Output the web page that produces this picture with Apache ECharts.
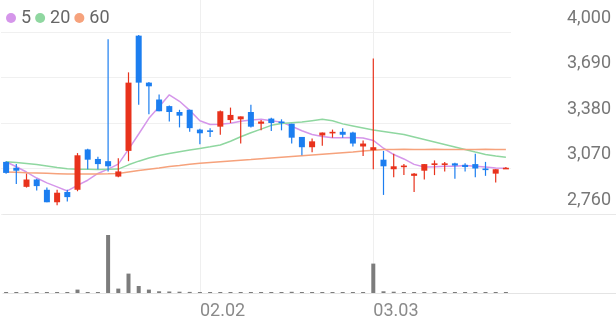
<!DOCTYPE html>
<html>
<head>
<meta charset="utf-8">
<script src="https://cdn.jsdelivr.net/npm/echarts@6/dist/echarts.min.js"></script>
<style>
html,body{margin:0;padding:0;background:#fff;}
#chart{width:616px;height:321px;}
</style>
</head>
<body>
<div id="chart"></div>
<script>
const dates = ['01.06','01.07','01.08','01.09','01.12','01.13','01.14','01.15','01.16','01.19',
  '01.20','01.21','01.22','01.23','01.26','01.27','01.28','01.29','01.30','02.02',
  '02.03','02.04','02.05','02.06','02.09','02.10','02.11','02.12','02.13','02.19',
  '02.20','02.23','02.24','02.25','02.26','02.27','03.03','03.04','03.05','03.06',
  '03.09','03.10','03.11','03.12','03.13','03.16','03.17','03.18','03.19','03.20'];
const xTickLabels = ['02.02','03.03'];
const opens = [3115,3075,2945,2995,2925,2840,2910,2925,3200,3135,
  3120,3015,3190,3975,3655,3540,3495,3455,3470,3335,
  3330,3355,3400,3405,3455,3375,3410,3390,3375,3285,
  3215,3295,3310,3320,3315,3220,3195,3130,3065,3080,
  3020,3055,3095,3100,3105,3095,3100,3070,3035,3070];
const closes = [3040,3055,2995,2950,2840,2905,2875,3160,3130,3100,
  3085,3050,3655,3655,3630,3460,3455,3430,3345,3310,
  3320,3460,3435,3425,3355,3390,3380,3380,3280,3215,
  3255,3315,3320,3300,3240,3240,3215,3085,3085,3090,
  3035,3100,3105,3105,3090,3080,3070,3060,3065,3075];
const lows = [3035,2965,2940,2920,2840,2820,2845,2915,3065,3065,
  3050,3010,3120,3505,3440,3460,3390,3350,3320,3235,
  3285,3300,3380,3240,3350,3330,3325,3330,3240,3160,
  3180,3225,3280,3280,3220,3155,3065,2890,3010,3025,
  2910,2995,3025,3050,3000,3050,3010,3020,2975,3070];
const highs = [3120,3100,3035,3000,2940,2925,2925,3175,3205,3150,
  3950,3140,3725,3980,3660,3575,3500,3470,3470,3340,
  3345,3465,3485,3425,3505,3400,3415,3405,3375,3285,
  3275,3315,3335,3345,3320,3260,3820,3190,3170,3100,
  3040,3100,3125,3115,3110,3105,3170,3115,3065,3080];
const ma5 = [3116,3082,3046,3005,2972,2945,2917,2955,2990,3036,
  3066,3100,3200,3305,3412,3490,3572,3528,3466,3395,
  3370,3372,3378,3392,3400,3406,3395,3386,3358,3327,
  3302,3288,3280,3280,3282,3278,3261,3208,3165,3135,
  3098,3080,3082,3085,3086,3090,3086,3080,3073,3072];
const ma20 = [3116,3111,3104,3097,3087,3077,3068,3065,3065,3064,
  3065,3066,3095,3120,3141,3158,3172,3184,3196,3207,
  3218,3230,3256,3286,3314,3338,3364,3377,3382,3387,
  3396,3405,3395,3374,3360,3346,3332,3322,3312,3302,
  3285,3268,3251,3234,3217,3200,3182,3166,3155,3147];
const ma60 = [3046,3044,3041,3039,3037,3035,3033,3033,3032,3033,
  3034,3036,3046,3056,3065,3073,3083,3090,3099,3106,
  3111,3116,3121,3126,3131,3137,3142,3147,3152,3157,
  3162,3167,3172,3177,3182,3189,3195,3199,3200,3201,
  3200,3200,3201,3200,3199,3200,3200,3201,3200,3200];
const volumes = [80,70,80,70,80,80,70,340,90,80,
  5800,440,1940,700,340,170,150,130,110,90,
  80,80,70,70,80,70,70,80,120,80,
  70,70,70,80,90,90,2940,170,130,90,
  80,70,70,70,70,70,80,70,70,60];
const yTicks = {min: 2760, max: 4000, step: 310};

const UP = '#e8321c', DOWN = '#1c7ef0';
const C5 = '#d596ea', C20 = '#8fd7a0', C60 = '#f6a27c';
const FONT = 'Roboto';

const candleData = opens.map((o, i) => [i, o, closes[i], lows[i], highs[i]]);
const showTick = (idx) => xTickLabels.indexOf(dates[idx]) >= 0;

function renderCandle(params, api) {
  const i = api.value(0);
  const o = api.value(1), c = api.value(2), l = api.value(3), h = api.value(4);
  const pO = api.coord([i, o]), pC = api.coord([i, c]);
  const pL = api.coord([i, l]), pH = api.coord([i, h]);
  const color = c >= o ? UP : DOWN;
  const top = Math.min(pO[1], pC[1]);
  const bot = Math.max(pO[1], pC[1]);
  const cx = pO[0];
  const bw = 6;
  return {
    type: 'group',
    children: [
      {type: 'line', shape: {x1: cx, y1: pH[1], x2: cx, y2: pL[1]},
        style: {stroke: color, lineWidth: 1.2}},
      {type: 'rect', shape: {x: cx - bw / 2, y: top, width: bw, height: Math.max(bot - top, 1.6)},
        style: {fill: color}}
    ]
  };
}

const chart = echarts.init(document.getElementById('chart'), null, {renderer: 'canvas'});
chart.setOption({
  animation: false,
  backgroundColor: '#fff',
  legend: {
    data: ['5', '20', '60'], left: 1, top: 4, icon: 'circle',
    itemWidth: 10, itemHeight: 10, itemGap: 4,
    textStyle: {fontSize: 18, color: '#666', fontFamily: FONT}
  },
  grid: [
    {left: 1, right: 105, top: 32, height: 182},
    {left: 1, right: 105, top: 235, height: 58},
    {left: 6.1, right: 110.1, top: 0, height: 293},
    {left: 3, right: 0, top: 0, height: 214},
    {left: 3, right: 0, top: 0, height: 293}
  ],
  xAxis: [
    {type: 'category', gridIndex: 0, data: dates, boundaryGap: true,
      axisLine: {show: false}, axisTick: {show: false}, axisLabel: {show: false}, splitLine: {show: false}},
    {type: 'category', gridIndex: 1, data: dates, boundaryGap: true,
      axisLine: {show: false}, axisTick: {show: false}, axisLabel: {show: false}, splitLine: {show: false}},
    {type: 'category', gridIndex: 2, data: dates, boundaryGap: false,
      axisLine: {show: false}, axisTick: {show: false},
      axisLabel: {interval: (i) => showTick(i), align: 'left', margin: 9, fontSize: 18,
        color: '#8a8a8a', fontFamily: FONT, lineHeight: 18},
      splitLine: {show: true, interval: (i) => showTick(i), lineStyle: {color: '#efefef', width: 1}}},
    {type: 'value', gridIndex: 3, axisLine: {show: true, onZero: false, lineStyle: {color: '#e8e8e8'}},
      axisTick: {show: false}, axisLabel: {show: false}, splitLine: {show: false}},
    {type: 'value', gridIndex: 4, axisLine: {show: true, onZero: false, lineStyle: {color: '#e4e4e4'}},
      axisTick: {show: false}, axisLabel: {show: false}, splitLine: {show: false}}
  ],
  yAxis: [
    {type: 'value', gridIndex: 0, position: 'right', min: yTicks.min, max: yTicks.max, interval: yTicks.step,
      axisLine: {show: false}, axisTick: {show: false},
      splitLine: {show: true, lineStyle: {color: '#f0f0f0', width: 1}},
      axisLabel: {align: 'right', margin: 100, verticalAlign: 'bottom', lineHeight: 18,
        padding: [0, 0, 5, 0], fontSize: 18, color: '#777', fontFamily: FONT,
        formatter: (v) => v.toLocaleString('en-US')}},
    {type: 'value', gridIndex: 1, min: 0, max: 'dataMax', show: false},
    {type: 'value', gridIndex: 2, show: false},
    {type: 'value', gridIndex: 3, show: false},
    {type: 'value', gridIndex: 4, show: false}
  ],
  series: [
    {name: '5', type: 'line', xAxisIndex: 0, yAxisIndex: 0, data: ma5, symbol: 'none',
      lineStyle: {color: C5, width: 1.5}, itemStyle: {color: C5}, z: 2},
    {name: '20', type: 'line', xAxisIndex: 0, yAxisIndex: 0, data: ma20, symbol: 'none',
      lineStyle: {color: C20, width: 1.5}, itemStyle: {color: C20}, z: 2},
    {name: '60', type: 'line', xAxisIndex: 0, yAxisIndex: 0, data: ma60, symbol: 'none',
      lineStyle: {color: C60, width: 1.5}, itemStyle: {color: C60}, z: 2},
    {name: 'price', type: 'custom', xAxisIndex: 0, yAxisIndex: 0, data: candleData,
      encode: {x: 0, y: [1, 2, 3, 4]}, renderItem: renderCandle, z: 3},
    {name: 'volume', type: 'bar', xAxisIndex: 1, yAxisIndex: 1, data: volumes,
      barWidth: 4, barMinHeight: 1, itemStyle: {color: '#7c7c7c'}}
  ]
});
</script>
</body>
</html>
